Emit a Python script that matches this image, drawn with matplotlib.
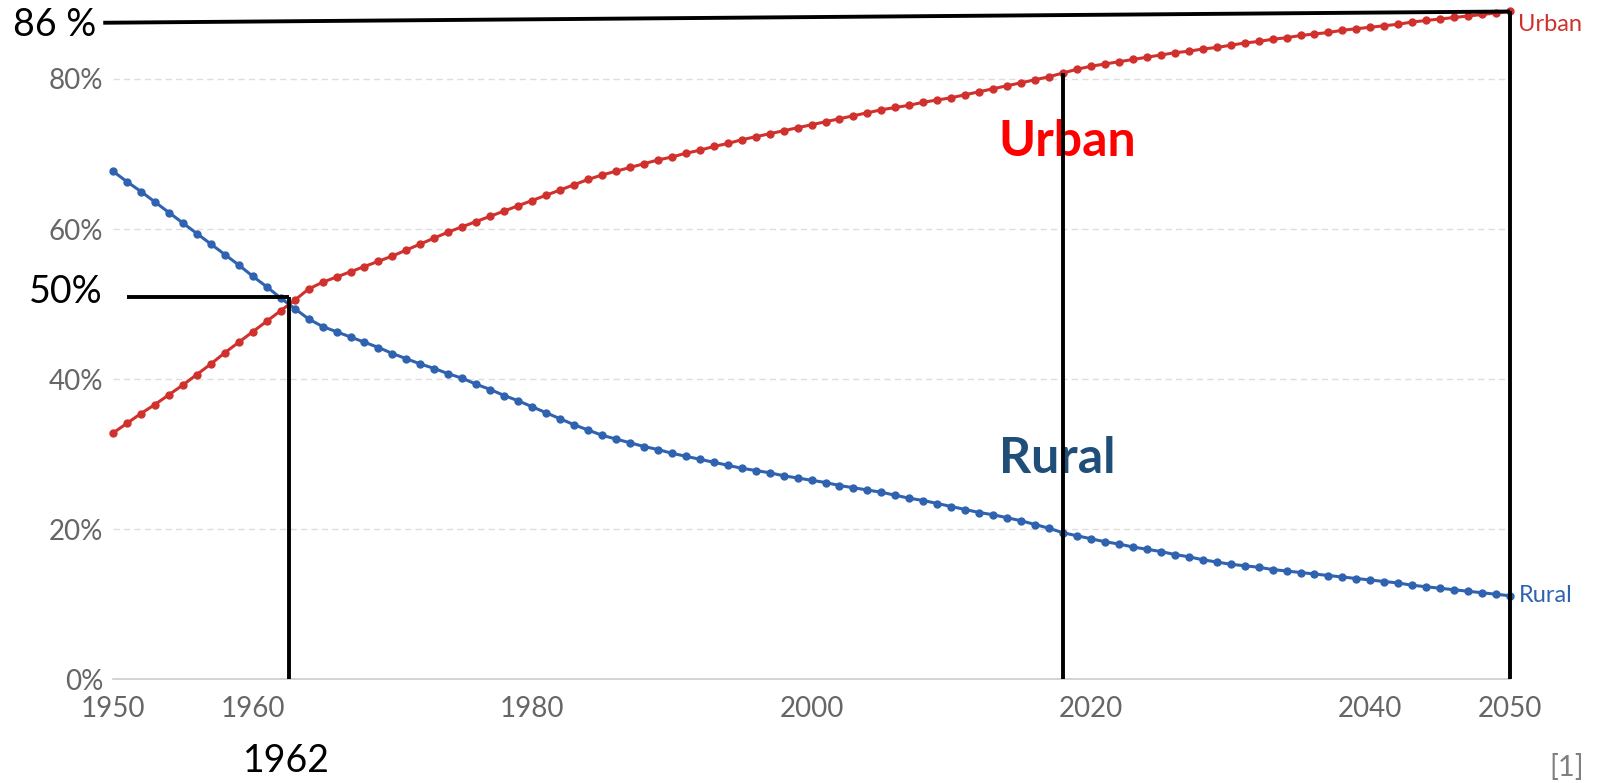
# Urban vs rural share of population, 1950-2050, with hand-drawn annotations.
import matplotlib
matplotlib.use("Agg")
import matplotlib.pyplot as plt

years = list(range(1950, 2051))

urban = [
    32.8, 34.1, 35.4, 36.6, 37.9, 39.2, 40.6, 42.0, 43.5, 44.9,
    46.3, 47.7, 49.1, 50.5, 52.0, 52.9, 53.6, 54.3, 55.0, 55.7,
    56.4, 57.2, 58.0, 58.8, 59.6, 60.3, 61.0, 61.7, 62.4, 63.1,
    63.8, 64.5, 65.2, 65.9, 66.6, 67.2, 67.7, 68.2, 68.7, 69.2,
    69.6, 70.1, 70.5, 71.0, 71.4, 71.9, 72.3, 72.7, 73.1, 73.5,
    73.9, 74.3, 74.7, 75.1, 75.5, 75.9, 76.2, 76.5, 76.9, 77.2,
    77.5, 77.9, 78.3, 78.7, 79.1, 79.5, 79.9, 80.3, 80.8, 81.3,
    81.7, 82.0, 82.3, 82.6, 82.9, 83.2, 83.5, 83.7, 84.0, 84.2,
    84.5, 84.8, 85.0, 85.3, 85.5, 85.8, 86.0, 86.2, 86.5, 86.7,
    86.9, 87.1, 87.3, 87.6, 87.8, 88.0, 88.2, 88.4, 88.6, 88.8,
    89.0,
]

rural = [
    67.7, 66.3, 65.0, 63.6, 62.2, 60.8, 59.4, 58.0, 56.6, 55.2,
    53.7, 52.3, 50.8, 49.4, 48.0, 47.0, 46.3, 45.6, 44.9, 44.2,
    43.4, 42.7, 42.0, 41.4, 40.7, 40.1, 39.3, 38.6, 37.8, 37.1,
    36.3, 35.5, 34.7, 33.9, 33.2, 32.5, 32.0, 31.5, 31.0, 30.6,
    30.1, 29.7, 29.3, 28.9, 28.5, 28.1, 27.8, 27.5, 27.1, 26.8,
    26.5, 26.2, 25.8, 25.5, 25.2, 24.9, 24.5, 24.1, 23.8, 23.4,
    23.0, 22.6, 22.2, 21.9, 21.5, 21.1, 20.6, 20.1, 19.5, 19.1,
    18.7, 18.3, 18.0, 17.6, 17.3, 17.0, 16.6, 16.3, 15.9, 15.6,
    15.3, 15.1, 14.9, 14.6, 14.4, 14.2, 14.0, 13.8, 13.6, 13.4,
    13.2, 13.0, 12.8, 12.5, 12.3, 12.1, 11.9, 11.7, 11.5, 11.3,
    11.1,
]

x_ticks = [1950, 1960, 1980, 2000, 2020, 2040, 2050]
y_ticks = [0, 20, 40, 60, 80]

cross_year = 1962.6
cross_level = 51.0
mark_year = 2018

red = "#d0312d"
blue = "#2f63b0"
gray = "#666666"

fig = plt.figure(figsize=(16.01, 7.83), dpi=100)
ax = fig.add_axes([0.0706, 0.1328, 0.8726, 0.8621])

ax.plot(years, urban, color=red, lw=2.2, marker="o", ms=5, clip_on=False, zorder=3)
ax.plot(years, rural, color=blue, lw=2.2, marker="o", ms=5, clip_on=False, zorder=3)

ax.set_xlim(1950, 2050)
ax.set_ylim(0, 90)
ax.set_xticks(x_ticks)
ax.set_xticklabels([str(y) for y in x_ticks])
ax.set_yticks(y_ticks)
ax.set_yticklabels([f"{v}%" for v in y_ticks])
ax.tick_params(length=0, labelsize=20, labelcolor=gray)
ax.tick_params(axis="x", pad=12)
ax.tick_params(axis="y", pad=7)
for lab in ax.get_xticklabels() + ax.get_yticklabels():
    lab.set_family("Lato")

for s in ["top", "right", "left"]:
    ax.spines[s].set_visible(False)
ax.spines["bottom"].set_color("#cccccc")
ax.spines["bottom"].set_linewidth(1.2)

for v in y_ticks[1:]:
    ax.axhline(v, color="#dddddd", lw=1, ls=(0, (4.5, 3)), zorder=1)

# series labels at the line ends
ax.text(2050.6, urban[-1] - 1.7, "Urban", color=red, fontsize=17, family="Lato",
        va="center", ha="left", clip_on=False)
ax.text(2050.6, rural[-1], "Rural", color=blue, fontsize=17, family="Lato",
        va="center", ha="left", clip_on=False)

# black annotation lines
k = dict(color="black", lw=2.8, clip_on=False, zorder=4, solid_capstyle="butt")
ax.plot([1949.3, 2050], [87.5, urban[-1]], **k)
ax.plot([2050, 2050], [0, urban[-1]], **k)
ax.plot([mark_year, mark_year], [0, urban[years.index(mark_year)]], **k)
ax.plot([cross_year, cross_year], [0, cross_level], **k)
ax.plot([1951.0, cross_year], [cross_level, cross_level], **k)

ax.text(0.008, 0.968, "86 %", transform=fig.transFigure, fontsize=27, family="Lato",
        va="center", ha="left")
ax.text(0.018, 0.627, "50%", transform=fig.transFigure, fontsize=27, family="Lato",
        va="center", ha="left")
ax.text(cross_year - 0.2, -10.9, "1962", fontsize=27, family="Lato", va="center", ha="center")

ax.text(2013.4, 71.6, "Urban", color="#ff0000", fontsize=36, family="Lato",
        fontweight="bold", va="center", ha="left")
ax.text(2013.4, 29.4, "Rural", color="#1f4e79", fontsize=36, family="Lato",
        fontweight="bold", va="center", ha="left")

fig.text(0.9675, 0.02, "[1]", fontsize=21, color="#808080", family="Lato",
         va="center", ha="left")

fig.savefig("out.png", dpi=100)
